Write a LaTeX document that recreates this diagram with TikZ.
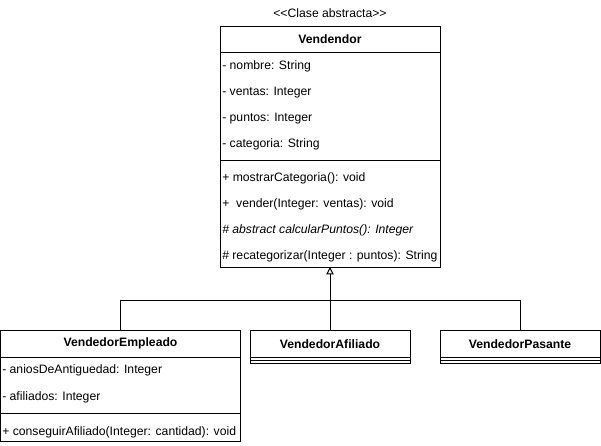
\documentclass[tikz,border=0pt]{standalone}
\usepackage{fontspec}
\setmainfont{Liberation Sans}
\usetikzlibrary{arrows.meta,positioning}

\tikzset{
  umlbox/.style={draw, line width=0.75pt, inner sep=0pt, outer sep=0pt, anchor=north},
  classname/.style={umlbox, font=\fontsize{9.15}{11}\selectfont\bfseries},
  member/.style={anchor=west, inner sep=0pt, yshift=-1.3pt},
  inherit/.style={line width=0.75pt, -{Triangle[open, length=5.5pt, width=5.5pt]}}
}

\begin{document}
\begin{tikzpicture}[x=0.75pt, y=-0.75pt, font=\fontsize{9.15}{11}\selectfont]
	\useasboundingbox (0,0) rectangle (601,446);
	
	\node (stereo) at (330,13) {<{}<Clase abstracta>{}>};
	
	% abstract class
	\node[classname, minimum width=165pt, minimum height=19.5pt] (vhead) at (330,26) {Vendendor};
	\node[umlbox, minimum width=165pt, minimum height=81pt] (vattr) at (vhead.south) {};
	\node[umlbox, minimum width=165pt, minimum height=80.25pt] (vmeth) at (vattr.south) {};
	\node[member] (nombre) at (222,65) {- nombre: String};
	\node[member] (ventas) at (222,91) {- ventas: Integer};
	\node[member] (puntos) at (222,117) {- puntos: Integer};
	\node[member] (categoria) at (222,143) {- categoria: String};
	\node[member] (mostrar) at (222,177) {+ mostrarCategoria(): void};
	\node[member] (vender) at (222,203) {+\ \ vender(Integer: ventas): void};
	\node[member, font=\fontsize{9.15}{11}\selectfont\itshape] (calcular) at (222,229) {\# abstract calcularPuntos(): Integer};
	\node[member] (recat) at (222,255) {\# recategorizar(Integer : puntos): String};
	
	% subclasses
	\node[classname, minimum width=180pt, minimum height=19.875pt] (ehead) at (120.5,330.5) {VendedorEmpleado};
	\node[umlbox, minimum width=180pt, minimum height=42pt] (eattr) at (ehead.south) {};
	\node[umlbox, minimum width=180pt, minimum height=21.5pt] (emeth) at (eattr.south) {};
	\node[member] (anios) at (2,369) {- aniosDeAntiguedad: Integer};
	\node[member] (afiliados) at (2,396) {- afiliados: Integer};
	\node[member] (conseguir) at (2,431) {+ conseguirAfiliado(Integer: cantidad): void};
	
	\node[classname, minimum width=120pt, minimum height=19.875pt] (ahead) at (330,330.5) {VendedorAfiliado};
	\node[umlbox, minimum width=120pt, minimum height=2.5pt] (aattr) at (ahead.south) {};
	\node[umlbox, minimum width=120pt, minimum height=2.5pt] (ameth) at (aattr.south) {};
	
	\node[classname, minimum width=120pt, minimum height=19.875pt] (phead) at (520,330.5) {VendedorPasante};
	\node[umlbox, minimum width=120pt, minimum height=2.5pt] (pattr) at (phead.south) {};
	\node[umlbox, minimum width=120pt, minimum height=2.5pt] (pmeth) at (pattr.south) {};
	
	% inheritance
	\coordinate (join) at (330,300);
	\draw[line width=0.75pt] (ehead.north) |- (join);
	\draw[line width=0.75pt] (phead.north) |- (join);
	\draw[inherit] (ahead.north) -- (vmeth.south);
\end{tikzpicture}
\end{document}
